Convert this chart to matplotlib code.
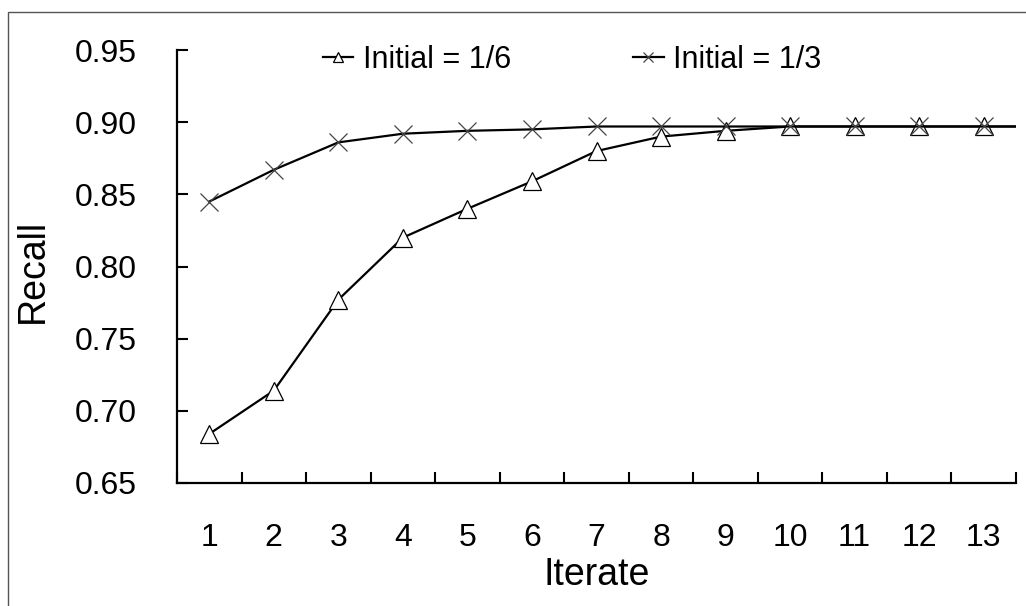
import matplotlib
matplotlib.use('Agg')
import matplotlib.pyplot as plt
from matplotlib.patches import Rectangle

plt.rcParams['font.family'] = ['Liberation Sans', 'DejaVu Sans']

# Recall per iteration
iterations = [1, 2, 3, 4, 5, 6, 7, 8, 9, 10, 11, 12, 13, 14]
recall_sixth = [0.684, 0.714, 0.777, 0.820, 0.840, 0.859, 0.880, 0.890, 0.894,
                0.897, 0.897, 0.897, 0.897, 0.897]
recall_third = [0.845, 0.867, 0.886, 0.892, 0.894, 0.895, 0.897, 0.897, 0.897,
                0.897, 0.897, 0.897, 0.897, 0.897]
labels = ['Initial = 1/6', 'Initial = 1/3']
x_ticklabels = [str(i) for i in range(1, 14)]
y_ticks = [0.65, 0.70, 0.75, 0.80, 0.85, 0.90, 0.95]

fig = plt.figure(figsize=(10.26, 6.06), dpi=100)
ax = fig.add_axes([177 / 1026, 1 - 483 / 606, 839 / 1026, 433 / 606])

ax.plot(iterations, recall_sixth, color='black', lw=1.6, marker='^', ms=13,
        mfc='white', mec='black', mew=0.9, label=labels[0], clip_on=True)
ax.plot(iterations, recall_third, color='black', lw=1.6, marker='x', ms=13,
        mec='#444444', mew=0.9, label=labels[1], clip_on=True)

ax.set_xlim(0.5, 13.5)
ax.set_ylim(0.65, 0.95)

# category axis: labels at centres, tick marks between categories
ax.set_xticks(range(1, 14))
ax.set_xticklabels(x_ticklabels)
ax.set_xticks([i + 0.5 for i in range(0, 14)], minor=True)
ax.tick_params(axis='x', which='major', length=0, pad=29, labelsize=23)
ax.tick_params(axis='x', which='minor', direction='in', length=8, width=1.5)

ax.set_yticks(y_ticks)
ax.set_yticklabels(['%.2f' % v for v in y_ticks])
ax.tick_params(axis='y', direction='in', length=8, width=1.5, pad=29, labelsize=23)

for s in ['top', 'right']:
    ax.spines[s].set_visible(False)
for s in ['left', 'bottom']:
    ax.spines[s].set_linewidth(1.6)

ax.set_xlabel('Iterate', fontsize=27)
ax.set_ylabel('Recall', fontsize=27)
ax.xaxis.set_label_coords(0.5, -0.172)
ax.yaxis.set_label_coords(-0.150, 0.49)

ax.legend(loc='center', bbox_to_anchor=(572 / 1026, 1 - 60 / 606),
          bbox_transform=fig.transFigure, ncol=2, frameon=False, fontsize=22,
          markerscale=0.5, handlelength=1.0, handletextpad=0.3, columnspacing=4.0)

# outer chart border (only left/top edges visible in the crop)
fig.patches.append(Rectangle((8 / 1026, -0.1), 1.2, 1.1 - 12 / 606, transform=fig.transFigure,
                             fill=False, edgecolor='#555555', lw=1.0))

fig.savefig('out.png', dpi=100)
